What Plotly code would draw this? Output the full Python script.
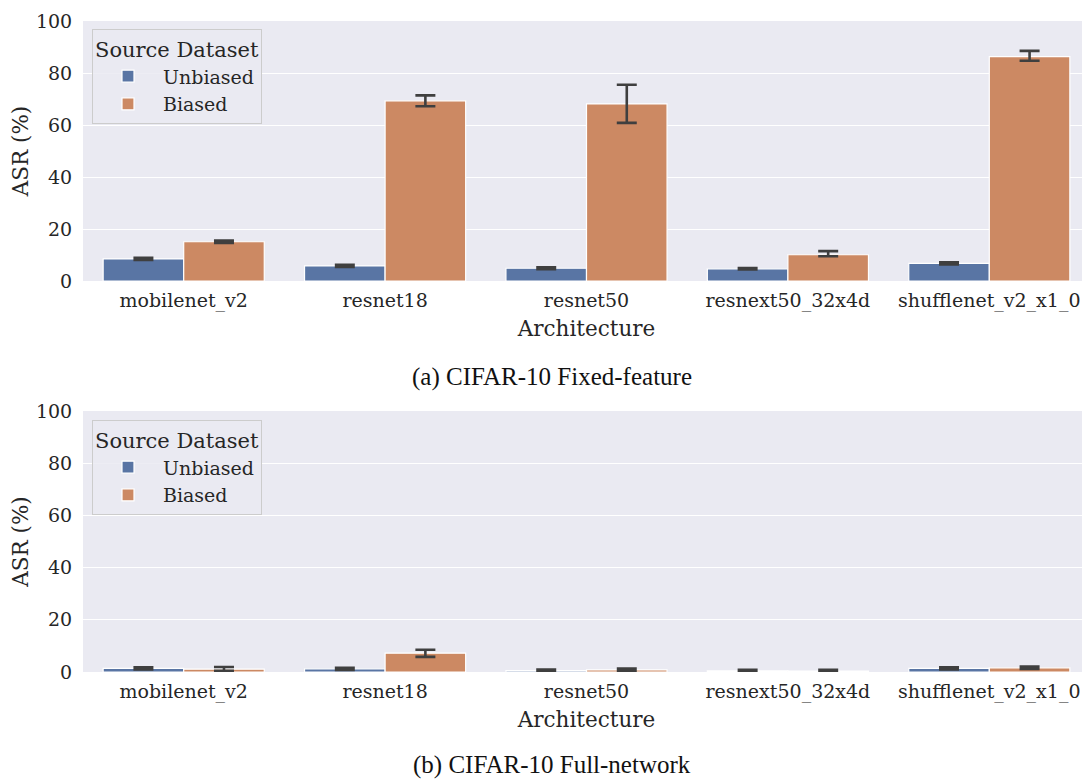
import plotly.graph_objects as go
from plotly.subplots import make_subplots

architectures = ["mobilenet_v2", "resnet18", "resnet50", "resnext50_32x4d", "shufflenet_v2_x1_0"]
series_names = ["Unbiased", "Biased"]

# (a) CIFAR-10 Fixed-feature
fixed_unbiased = [8.5, 5.8, 4.9, 4.7, 6.8]
fixed_unbiased_err_hi = [0.4, 0.4, 0.4, 0.3, 0.4]
fixed_unbiased_err_lo = [0.4, 0.4, 0.4, 0.3, 0.4]
fixed_biased = [15.1, 69.3, 68.1, 10.1, 86.3]
fixed_biased_err_hi = [0.5, 2.1, 7.4, 1.4, 2.2]
fixed_biased_err_lo = [0.5, 2.1, 7.3, 0.6, 1.6]

# (b) CIFAR-10 Full-network
full_unbiased = [1.4, 1.2, 0.5, 0.4, 1.4]
full_unbiased_err_hi = [0.4, 0.4, 0.4, 0.4, 0.4]
full_unbiased_err_lo = [0.4, 0.4, 0.4, 0.4, 0.4]
full_biased = [1.1, 7.2, 0.8, 0.3, 1.6]
full_biased_err_hi = [0.8, 1.3, 0.5, 0.5, 0.5]
full_biased_err_lo = [0.6, 1.4, 0.5, 0.3, 0.4]

y_ticks = [0, 20, 40, 60, 80, 100]
captions = ["(a) CIFAR-10 Fixed-feature", "(b) CIFAR-10 Full-network"]

colors = ["#5975a4", "#cc8963"]
err_color = "#3f3f3f"
font_main = "DejaVu Serif"

# page body adds an 8px margin; size the figure so it fills the 1090x779 window
OFF = 8
W, H = 1090 - OFF, 779 - OFF
L = 83 - OFF
fig = make_subplots(rows=2, cols=1)

panels = [
    (fixed_unbiased, fixed_unbiased_err_hi, fixed_unbiased_err_lo,
     fixed_biased, fixed_biased_err_hi, fixed_biased_err_lo, "legend"),
    (full_unbiased, full_unbiased_err_hi, full_unbiased_err_lo,
     full_biased, full_biased_err_hi, full_biased_err_lo, "legend2"),
]

for r, (u, uh, ul, b, bh, bl, leg) in enumerate(panels, start=1):
    for name, vals, hi, lo, col in [
        (series_names[0], u, uh, ul, colors[0]),
        (series_names[1], b, bh, bl, colors[1]),
    ]:
        fig.add_trace(
            go.Bar(
                x=architectures, y=vals, name=name,
                marker=dict(color=col, line=dict(color="white", width=1.2)),
                error_y=dict(type="data", array=hi, arrayminus=lo, symmetric=False,
                             color=err_color, thickness=2.6, width=10),
                legend=leg, showlegend=True,
            ),
            row=r, col=1,
        )

def ypix(p):
    # p: y position in the window (screenshot) pixels
    return 1 - (p - OFF) / H

def xpix(p):
    return (p - OFF - L) / (W - L)

dom1 = [ypix(281), ypix(21)]
dom2 = [ypix(672), ypix(411)]

tickfont = dict(family=font_main, size=19, color="#262626")
titlefont = dict(family=font_main, size=21.5, color="#262626")

def xax():
    return dict(domain=[0, 1], showgrid=False, zeroline=False, showline=False,
                automargin=False, tickfont=tickfont,
                ticks="outside", ticklen=2, tickcolor="rgba(0,0,0,0)",
                title=dict(text="Architecture", font=titlefont, standoff=10))

def yax(dom):
    return dict(domain=dom, range=[0, 100], tickvals=y_ticks, showgrid=True,
                automargin=False,
                gridcolor="white", gridwidth=1.3, zeroline=False, showline=False,
                tickfont=tickfont, ticks="outside", ticklen=6, tickcolor="rgba(0,0,0,0)",
                title=dict(text="ASR (%)", font=titlefont, standoff=5))

def leg(ytop):
    return dict(
        x=xpix(92), y=ypix(ytop), xanchor="left", yanchor="top",
        bgcolor="rgba(234,234,242,0.85)", bordercolor="#cccccc", borderwidth=1,
        title=dict(text="Source Dataset", font=dict(family=font_main, size=21, color="#262626")),
        font=dict(family=font_main, size=19, color="#262626"),
        itemwidth=60, tracegroupgap=0,
    )

fig.update_layout(
    width=W, height=H,
    margin=dict(l=L, r=0, t=0, b=0),
    paper_bgcolor="white", plot_bgcolor="#eaeaf2",
    barmode="group", bargap=0.2, bargroupgap=0.0,
    font=dict(family=font_main, color="#262626"),
    xaxis=xax(), xaxis2=xax(),
    yaxis=yax(dom1), yaxis2=yax(dom2),
    legend=leg(29), legend2=leg(420),
)

for text, py in zip(captions, [377, 765]):
    fig.add_annotation(
        text=text, xref="paper", yref="paper",
        x=xpix(552), y=ypix(py), xanchor="center", yanchor="middle",
        showarrow=False, font=dict(family="Liberation Serif", size=25, color="#111111"),
    )

fig.write_html("out.html")
